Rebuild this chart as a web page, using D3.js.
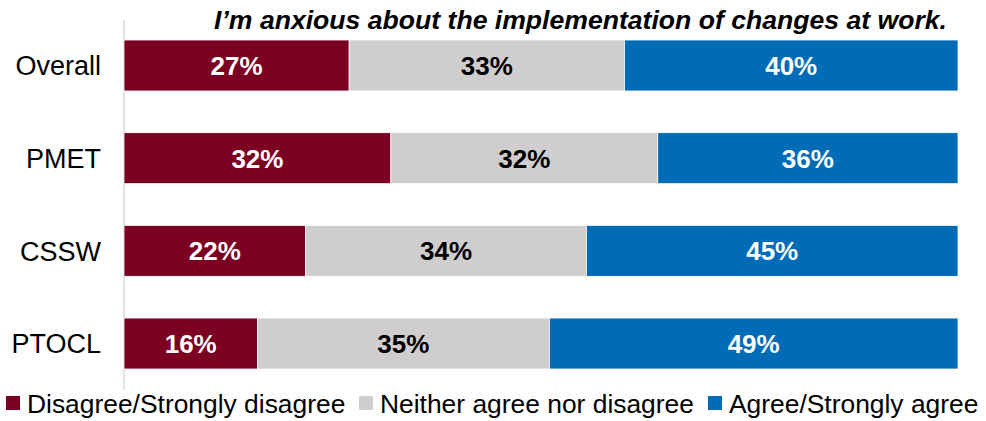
<!DOCTYPE html>
<html>
<head>
<meta charset="utf-8">
<script src="https://cdn.jsdelivr.net/npm/d3@7/dist/d3.min.js"></script>
<style>
  html, body { margin: 0; padding: 0; background: #fff; }
  svg { display: block; font-family: "Liberation Sans", Arial, sans-serif; }
</style>
</head>
<body>
<svg id="chart" width="986" height="421"></svg>
<script>
// Survey groups, top to bottom
const groups = ["Overall", "PMET", "CSSW", "PTOCL"];
// Response shares (%) per group
const disagree = [27, 32, 22, 16];
const neither = [33, 32, 34, 35];
const agree = [40, 36, 45, 49];
const seriesNames = ["Disagree/Strongly disagree", "Neither agree nor disagree", "Agree/Strongly agree"];
const seriesKeys = ["disagree", "neither", "agree"];
const seriesColors = ["#7B0022", "#CFCDCE", "#006BB6"];
const labelColors = ["#ffffff", "#000000", "#ffffff"];
const title = "I\u2019m anxious about the implementation of changes at work.";

const rows = groups.map((g, i) => ({ group: g, disagree: disagree[i], neither: neither[i], agree: agree[i] }));

const svg = d3.select("#chart");
const W = 986;
const plotLeft = 124, plotRight = W - 28;

const x = d3.scaleLinear().domain([0, 1]).range([plotLeft, plotRight]);
const y = d3.scaleBand().domain(groups).range([12.2, 396.8]).paddingInner(0.45).paddingOuter(0.3);

const stacked = d3.stack().keys(seriesKeys).offset(d3.stackOffsetExpand)(rows);

// Vertical category axis line
svg.append("line")
  .attr("x1", plotLeft).attr("x2", plotLeft)
  .attr("y1", 20).attr("y2", 390)
  .attr("stroke", "#d9d9d9").attr("stroke-width", 1.5);

// Bar segments
const layers = svg.append("g").selectAll("g").data(stacked).join("g")
  .attr("fill", (d, i) => seriesColors[i]);

layers.selectAll("rect").data(d => d).join("rect")
  .attr("x", d => x(d[0]))
  .attr("y", d => y(d.data.group))
  .attr("width", d => x(d[1]) - x(d[0]))
  .attr("height", y.bandwidth())
  .attr("stroke", "#ffffff").attr("stroke-width", 0.8);

// Value labels centred in each segment
stacked.forEach((layer, i) => {
  svg.append("g").selectAll("text").data(layer).join("text")
    .attr("x", d => (x(d[0]) + x(d[1])) / 2)
    .attr("y", d => y(d.data.group) + y.bandwidth() / 2)
    .attr("dy", "0.36em")
    .attr("text-anchor", "middle")
    .attr("font-size", 26).attr("font-weight", "bold")
    .attr("fill", labelColors[i])
    .text(d => d.data[seriesKeys[i]] + "%");
});

// Category labels
svg.append("g").selectAll("text").data(groups).join("text")
  .attr("x", 101)
  .attr("y", g => y(g) + y.bandwidth() / 2)
  .attr("dy", "0.36em")
  .attr("text-anchor", "end")
  .attr("font-size", 27)
  .attr("fill", "#000")
  .text(g => g);

// Title
svg.append("text")
  .attr("x", 947).attr("y", 29)
  .attr("text-anchor", "end")
  .attr("font-size", 26.6).attr("font-weight", "bold").attr("font-style", "italic")
  .attr("fill", "#000")
  .text(title);

// Legend
const legendX = [6, 359, 708];
const legend = svg.append("g").selectAll("g").data(seriesNames).join("g")
  .attr("transform", (d, i) => `translate(${legendX[i]},396)`);
legend.append("rect")
  .attr("width", 14).attr("height", 14)
  .attr("fill", (d, i) => seriesColors[i]);
legend.append("text")
  .attr("x", 21).attr("y", 7)
  .attr("dy", "0.36em")
  .attr("font-size", 26.4)
  .attr("fill", "#000")
  .text(d => d);
</script>
</body>
</html>
